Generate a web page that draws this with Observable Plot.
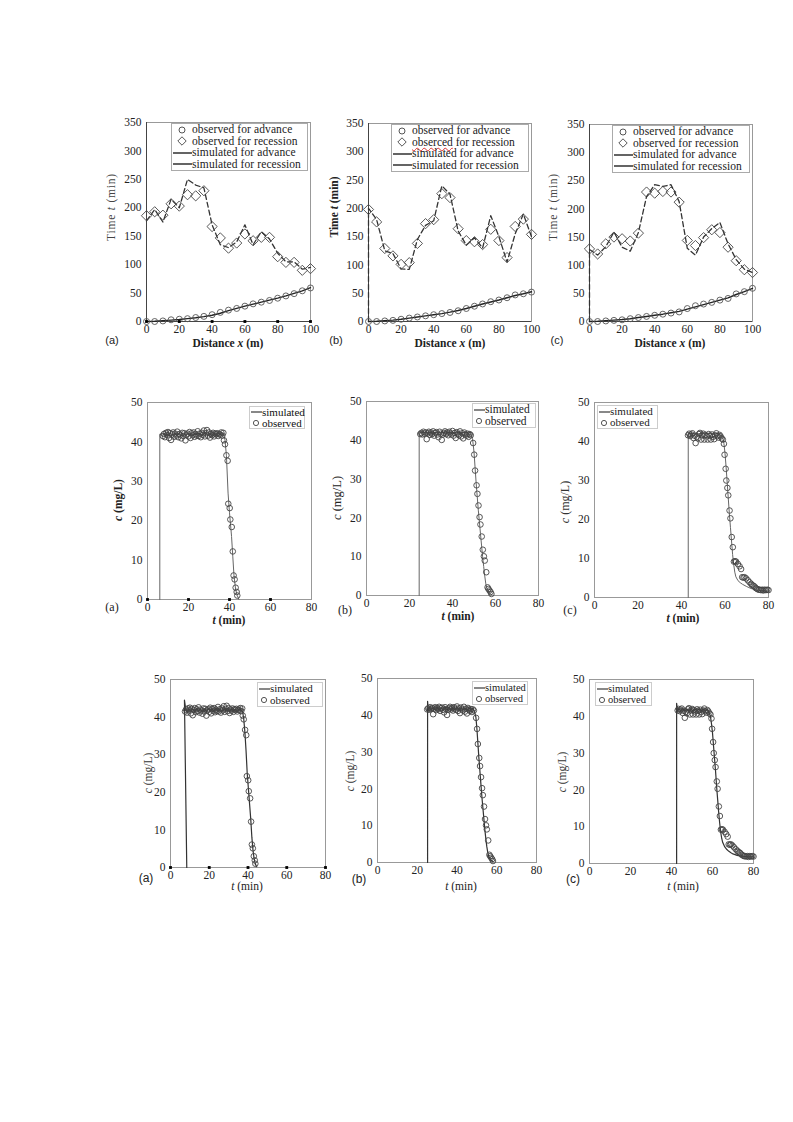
<!DOCTYPE html>
<html><head><meta charset="utf-8">
<script src="https://cdn.jsdelivr.net/npm/d3@7"></script>
<script src="https://cdn.jsdelivr.net/npm/@observablehq/plot@0.6"></script>
<style>
body{margin:0;background:#fff;}
#page{position:relative;width:793px;height:1122px;background:#fff;overflow:hidden;font-family:"Liberation Serif",serif;color:#222;}
.lbl{position:absolute;white-space:nowrap;transform:translate(-50%,-50%);}
.ylbl{position:absolute;white-space:nowrap;transform:translate(-50%,-50%) rotate(-90deg);}
.legend{position:absolute;background:#fff;border:1px solid #aaa;font-family:"Liberation Serif",serif;color:#222;box-sizing:border-box;}
.legend .row{display:flex;align-items:center;white-space:nowrap;}
.legend svg{flex:none;}
</style></head><body><div id="page"></div><script>
// ---------- Row 1: advance / recession (time vs distance) ----------
const distance = [0,5,10,15,20,25,30,35,40,45,50,55,60,65,70,75,80,85,90,95,100];
const advObsA = [0,0,1,3,4,5,7,9,12,16,20,23,27,31,34,37,41,45,49,54,59];
const advSimA = [0,0.5,1.5,2.5,3.5,5,6.5,8.5,11,14.5,19,23,27,30.5,34,37.5,41,45,49.5,54,59.5];
const recObsA = [186,193,187,207,203,223,221,230,167,147,129,138,154,142,148,148,114,104,104,90,93];
const recSimA = [177,197,175,215,200,250,240,235,170,135,130,140,170,135,158,145,120,105,105,92,95];

const advObsB = [0,0,1,2,4,6,8,10,12,14,16,19,23,27,31,35,38,42,47,49,52];
const advSimB = [0,0.5,1.5,2.5,4,6,8,10,12,14,16.5,19.5,23,27,31,34.5,38,42,46,49,52.5];
const recObsB = [198,176,129,116,101,104,138,173,180,226,219,164,143,141,136,163,143,113,168,181,154];
const recSimBx = [0,0,5,10,15,20,25,30,35,40,45,50,55,60,65,70,75,80,85,90,95,100];
const recSimBy = [0,200,180,125,120,93,92,145,170,178,240,225,160,135,148,130,187,150,105,155,190,150];

const advObsC = [0,0,1,2,3,5,7,9,11,13,15,17,23,28,31,34,38,41,49,53,59];
const advSimC = [0,0.5,1.5,2.5,3.5,5,7,9,11,13,15.5,18,22,26,30,34,38,42,48,53,59];
const recObsC = [129,120,138,150,147,143,157,230,228,231,230,212,144,135,149,163,158,132,108,92,87];
const recSimCx = [0,0,5,10,15,20,25,30,35,40,45,50,55,60,65,70,75,80,85,90,95,100];
const recSimCy = [0,128,118,133,159,132,125,158,222,243,240,243,213,130,118,150,165,176,138,110,93,87];

const distTicks = [0,20,40,60,80,100];
const timeTicks = [0,50,100,150,200,250,300,350];
const axisDotsRow1 = [0,20,40,60,80,100];

// ---------- Rows 2 & 3: concentration vs time ----------
const tObsA = [7.5,8,8.5,9,9.5,10,10.5,11,11.5,12,12.5,13,13.5,14,14.5,15,15.5,16,16.5,17,17.5,18,18.5,19,19.5,20,20.5,21,21.5,22,22.5,23,23.5,24,24.5,25,25.5,26,26.5,27,27.5,28,28.5,29,29.5,30,30.5,31,31.5,32,32.5,33,33.5,34,34.5,35,35.5,36,36.5,37,
  37.3,37.8,38.5,39.1,39.4,40.1,40.4,41.1,41.6,42,42.5,43,43.5,43.8];
const cObsA = [41.5,42.0,41.2,42.3,41.8,42.5,41.0,42.2,40.5,41.9,42.4,41.3,42.1,41.6,42.6,41.2,42.0,41.7,40.9,42.3,
  41.5,42.2,40.4,41.8,42.1,41.4,42.5,41.0,42.2,41.7,42.4,41.3,42.0,41.6,42.7,41.5,42.1,41.2,42.3,41.8,
  42.9,41.4,42.2,43.0,41.6,42.4,41.1,42.0,41.7,42.3,41.4,42.1,41.9,42.2,41.5,42.0,41.8,42.4,41.6,42.3,
  40.4,39.4,36.6,35.2,24.3,23.2,20.3,18.4,12.2,6.1,5.1,3.0,1.9,1.0];

const tObsB = [25,25.5,26,26.5,27,27.5,28,28.5,29,29.5,30,30.5,31,31.5,32,32.5,33,33.5,34,34.5,35,35.5,36,36.5,37,37.5,38,38.5,39,39.5,40,40.5,41,41.5,42,42.5,43,43.5,44,44.5,45,45.5,46,46.5,47,47.5,48,48.5,
  49.6,50.1,50.5,51.2,51.6,52.1,52.6,53,53.6,54.1,54.6,55,55.7,56.3,56.7,57.2,57.7,58.1];
const cObsB = [41.6,41.9,41.5,42.2,41.7,42.0,40.3,41.8,42.2,41.4,42.0,41.6,42.3,41.2,41.9,42.1,41.5,40.8,42.2,41.7,
  40.1,41.5,41.9,42.3,41.6,42.0,41.3,42.2,41.8,41.5,42.4,41.2,41.9,40.6,42.1,41.6,41.3,42.3,41.0,41.8,
  40.5,42.0,41.5,41.2,41.7,40.9,41.6,41.3,
  39.3,36.3,32.2,28.4,26.2,23.2,20.2,18.3,15.2,11.8,10.1,9.0,6.0,2.1,1.7,1.3,0.9,0.4];

const tObsC = [43,43.5,44,44.5,45,45.5,46,46.5,47,47.5,48,48.5,49,49.5,50,50.5,51,51.5,52,52.5,53,53.5,54,54.5,55,55.5,56,56.5,57,57.5,58,58.5,
  59,59.5,59.8,60.3,60.6,61.1,61.5,62.1,62.5,63.1,63.6,64.1,64.6,65.1,65.9,66.7,67.4,67.9,68.5,69,69.7,70.5,71.3,72,72.5,73.1,73.6,74.2,74.8,75.4,75.9,76.5,77.1,77.6,78.2,78.8,79.4,80];
const cObsC = [41.6,42.0,41.4,41.8,42.1,40.9,41.5,39.6,41.2,40.8,41.9,42.2,40.5,41.6,42.0,40.5,41.7,41.3,40.5,41.9,
  41.5,40.5,41.8,41.2,40.6,41.6,42.1,41.4,41.0,41.7,41.3,40.8,
  40.5,39.4,36.6,33.0,30.0,28.1,26.2,22.3,20.3,15.5,12.9,9.2,9.3,9.2,8.6,8.0,7.3,5.2,5.1,5.2,4.9,4.4,3.9,3.5,3.2,3.0,2.8,2.4,2.2,2.0,2.0,1.9,2.0,1.8,2.0,1.9,2.0,1.9];

// simulated, row 2
const tSim2A = [6,6,37,37.8,38.5,39.3,40,41,41.6,42.2,43,43.8,44.6];
const cSim2A = [0,42,42,40.5,36.5,27,22,16,11,6,2.5,1,0];
const tSim2B = [24.5,24.5,48.5,49.3,50,50.5,51,51.5,52,52.5,53,53.5,54,54.5,55,55.5,56,57,58];
const cSim2B = [0,42,42,40.5,37,33,29,25.5,22,19,16,13,10,7.5,5,3,1.8,0.7,0.3];
const tSim2C = [43.1,43.1,58,59,59.5,60,60.5,61,61.5,62,62.5,63,63.5,64,64.5,65,66,67,68,70,72,74,76,78,80];
const cSim2C = [0,42,42,41,39.5,37,33.5,29.5,25.5,21.5,18,14.5,11,8.5,6.5,5.3,4.3,3.8,3.4,2.8,2.3,2.0,1.8,1.7,1.6];

// simulated, row 3
const tSim3A = [8.4,7.2,7.9,8.6,9.5,10.5,11.5,12.5,13.5,14.5,15.5,16.5,17.5,18.5,19.5,20.5,21.5,22.5,23.5,24.5,25.5,26.5,27.5,28.5,29.5,30.5,31.5,32.5,33.5,34.5,35.5,36.5,37.2,37.8,38.4,39,39.6,40.2,40.8,41.4,42,42.6,43.2,43.8,44.5];
const cSim3A = [0,44.5,42,41.3,42.3,41.5,42.2,41.4,42.3,41.6,42.1,41.4,42.2,41.5,42.3,41.6,42.2,41.5,42.3,41.6,42.1,41.5,42.2,41.6,42.3,41.5,42.2,41.6,42.1,41.5,42.2,41.8,41.5,39.5,36,31,25,21,17,13,8,4.5,2.2,0.9,0.2];
const tSim3B = [25.2,25.2,25.6,26.2,27,28,29,30,31,32,33,34,35,36,37,38,39,40,41,42,43,44,45,46,47,48,48.8,49.5,50,50.5,51,51.5,52,52.5,53,53.5,54,54.5,55,55.5,56,57,58];
const cSim3B = [0,43.8,41.3,42.1,41.4,42.1,41.5,42.2,41.4,42.0,41.5,42.2,41.4,42.1,41.5,42.0,41.4,42.2,41.5,42.1,41.4,42.0,41.5,42.1,41.4,41.9,41,39.5,36.5,32.5,28.5,25,21.5,18,15,12,9,6.5,4.3,2.7,1.6,0.7,0.3];
const tSim3C = [42.5,42.5,43,43.6,44.5,45.5,46.5,47.5,48.5,49.5,50.5,51.5,52.5,53.5,54.5,55.5,56.5,57.5,58.3,59,59.5,60,60.5,61,61.5,62,62.5,63,63.5,64,64.5,65,66,67,68,69,70,72,74,76,78,80];
const cSim3C = [0,43.5,41.4,42.0,41.5,42.1,41.4,42.0,41.5,42.1,41.4,42.0,41.5,42.1,41.4,42.0,41.5,41.9,41,40,38,35.5,32,28.5,25,21,17.5,14,11,8.5,6.8,5.7,4.5,3.8,3.3,2.9,2.6,2.2,2.0,1.9,1.8,1.8];

const concTicks = [0,10,20,30,40,50];
const minTicks = [0,20,40,60,80];
const axisDotsRow2 = [0,20,40,60];
const axisDotsRow3 = [0,20,40,60,80];

// ---------- helpers ----------
const page = document.getElementById("page");
const zip = (xs, ys) => xs.map((x, i) => ({x, y: ys[i]}));

function panel({box, xDomain, yDomain, xTicks, yTicks, marks, fontSize, axisDark}) {
  const mL = 40, mR = 8, mT = 8, mB = 24;
  const w = box[2] - box[0], h = box[3] - box[1];
  const extra = axisDark ? [Plot.ruleX([xDomain[0]], {stroke: "#444"}), Plot.ruleY([yDomain[0]], {stroke: "#444"})] : [];
  const svg = Plot.plot({
    width: w + mL + mR, height: h + mT + mB,
    marginLeft: mL, marginRight: mR, marginTop: mT, marginBottom: mB,
    style: {fontFamily: "'Liberation Serif', serif", fontSize: fontSize + "px", color: "#222", background: "transparent", overflow: "visible"},
    x: {domain: xDomain, ticks: xTicks, tickSize: 0, tickPadding: 3, label: null},
    y: {domain: yDomain, ticks: yTicks, tickSize: 0, tickPadding: 5, label: null},
    marks: [Plot.frame({stroke: "#999"}), ...extra, ...marks]
  });
  svg.style.position = "absolute";
  svg.style.left = (box[0] - mL) + "px";
  svg.style.top = (box[1] - mT) + "px";
  page.appendChild(svg);
}

function text(html, x, y, css = "") {
  const d = document.createElement("div");
  d.className = "lbl"; d.innerHTML = html;
  d.style.cssText += `left:${x}px;top:${y}px;${css}`;
  page.appendChild(d);
}
function ytext(html, x, y, css = "") {
  const d = document.createElement("div");
  d.className = "ylbl"; d.innerHTML = html;
  d.style.cssText += `left:${x}px;top:${y}px;${css}`;
  page.appendChild(d);
}
const symCircle = (w, r) => `<svg width="${w}" height="10"><circle cx="${w/2}" cy="5" r="${r}" fill="none" stroke="#555"/></svg>`;
const symDiamond = w => `<svg width="${w}" height="10"><polygon points="${w/2},0.8 ${w/2+4.2},5 ${w/2},9.2 ${w/2-4.2},5" fill="none" stroke="#555"/></svg>`;
const symLine = (w, c) => `<svg width="${w}" height="10"><line x1="1" x2="${w}" y1="5" y2="5" stroke="${c}" stroke-width="1.4"/></svg>`;

function legend(rows, left, top, width, height, fontSize, css = "") {
  const d = document.createElement("div");
  d.className = "legend";
  d.style.cssText += `left:${left}px;top:${top}px;width:${width}px;height:${height}px;font-size:${fontSize}px;${css}`;
  const rh = (height - 2) / rows.length;
  d.innerHTML = rows.map(([s, t]) => `<div class="row" style="height:${rh}px;line-height:${rh}px">${s}<span>${t}</span></div>`).join("");
  page.appendChild(d);
}

// ---------- Row 1 panels ----------
function row1(box, adv, advSim, rec, recSimX, recSimY, dots) {
  const marks = [
    Plot.line(zip(recSimX, recSimY), {x: "x", y: "y", stroke: "#333", strokeWidth: 1.3, strokeDasharray: "5,3"}),
    Plot.line(zip(distance, advSim), {x: "x", y: "y", stroke: "#222", strokeWidth: 1.4}),
    Plot.dot(zip(distance, rec), {x: "x", y: "y", symbol: "diamond2", r: 4.6, stroke: "#444", fill: "none", strokeWidth: 0.9}),
    Plot.dot(zip(distance, adv), {x: "x", y: "y", symbol: "circle", r: 3, stroke: "#555", fill: "none", strokeWidth: 0.9})
  ];
  if (dots) marks.push(Plot.dot(dots, {x: d => d, y: () => 0, symbol: "square", r: 1.6, fill: "#000"}));
  panel({box, xDomain: [0, 100], yDomain: [0, 350], xTicks: distTicks, yTicks: timeTicks, marks, fontSize: 11.5, axisDark: true});
}
row1([146, 122, 310, 321], advObsA, advSimA, recObsA, distance, recSimA, axisDotsRow1);
row1([368, 123, 531, 321], advObsB, advSimB, recObsB, recSimBx, recSimBy, null);
row1([589, 124, 752, 321], advObsC, advSimC, recObsC, recSimCx, recSimCy, null);

const leg1 = (obsRec) => [
  [symCircle(20, 3), "observed for advance"],
  [symDiamond(20), obsRec],
  [symLine(20, "#222"), "simulated for advance"],
  [symLine(20, "#222"), "simulated for recession"]
];
legend(leg1("observed for recession"), 171, 123, 137, 48, 11.5, "letter-spacing:0.1px;");
legend(leg1('<span style="text-decoration:underline wavy #d33;text-decoration-thickness:1px">obserced</span> for recession'), 391, 124, 138, 48, 11.5);
legend(leg1("observed for recession"), 612, 125, 138, 48, 11.5, "letter-spacing:0.1px;");

ytext("Time <i>t</i> (min)", 111, 207, "font-size:11.5px;color:#444;letter-spacing:0.8px;");
ytext("<b>Time <i>t</i> (min)</b>", 334, 207, "font-size:11.5px;");
ytext("Time <i>t</i> (min)", 553, 207, "font-size:11.5px;color:#444;letter-spacing:0.8px;");
for (const [cx, lx, l] of [[228, 112, "(a)"], [450, 336, "(b)"], [670, 557, "(c)"]]) {
  text("<b>Distance <i>x</i> (m)</b>", cx, 343, "font-size:11.5px;");
  text(l, lx, 340, "font-family:'Liberation Sans',Arial,sans-serif;font-size:11px;");
}

// ---------- Rows 2 & 3 ----------
function concPanel(box, tObs, cObs, tSim, cSim, dots, simColor, simWidth) {
  const marks = [
    Plot.line(zip(tSim, cSim), {x: "x", y: "y", stroke: simColor, strokeWidth: simWidth}),
    Plot.dot(zip(tObs, cObs), {x: "x", y: "y", symbol: "circle", r: 2.8, stroke: "#444", fill: "none", strokeWidth: 0.9})
  ];
  if (dots) marks.push(Plot.dot(dots, {x: d => d, y: () => 0, symbol: "square", r: 1.6, fill: "#000"}));
  panel({box, xDomain: [0, 80], yDomain: [0, 50], xTicks: minTicks, yTicks: concTicks, marks, fontSize: 11.5, axisDark: false});
}
concPanel([147, 402, 311, 599], tObsA, cObsA, tSim2A, cSim2A, axisDotsRow2, "#666", 1);
concPanel([366, 401, 538, 595], tObsB, cObsB, tSim2B, cSim2B, null, "#666", 1);
concPanel([594, 402, 768, 597], tObsC, cObsC, tSim2C, cSim2C, null, "#666", 1);
concPanel([170, 679, 325, 867], tObsA, cObsA, tSim3A, cSim3A, axisDotsRow3, "#333", 1.2);
concPanel([377, 678, 536, 862], tObsB, cObsB, tSim3B, cSim3B, null, "#333", 1.2);
concPanel([589, 679, 753, 863], tObsC, cObsC, tSim3C, cSim3C, null, "#333", 1.2);

const leg2 = [[symLine(12, "#555"), "simulated"], [symCircle(12, 2.6), "observed"]];
legend(leg2, 249, 406, 56, 23, 11, "color:#111;border-color:#ccc;");
legend(leg2, 472, 403, 64, 25, 11.5, "border-color:#ccc;");
legend(leg2, 597, 405, 61, 24, 11, "border-color:#ccc;");
legend(leg2, 257, 682, 66, 25, 11, "border-color:#ccc;");
legend(leg2, 472, 681, 56, 24, 10.5, "border-color:#ccc;");
legend(leg2, 595, 682, 57, 24, 10.5, "border-color:#ccc;");

// row 2 labels
ytext("<b><i>c</i> (mg/L)</b>", 118, 500, "font-size:11.5px;");
ytext("<i>c</i> (mg/L)", 337, 498, "font-size:12.5px;");
ytext("<i>c</i> (mg/L)", 565, 502, "font-size:12px;color:#333;");
text("<b><i>t</i> (min)</b>", 229, 620, "font-size:11.5px;");
text("<b><i>t</i> (min)</b>", 458, 616, "font-size:11.5px;");
text("<b><i>t</i> (min)</b>", 683, 618, "font-size:11.5px;");
text("(a)", 112, 607, "font-size:12px;");
text("(b)", 345, 610, "font-size:12px;");
text("(c)", 570, 610, "font-size:12px;");

// row 3 labels
ytext("<i>c</i> (mg/L)", 148, 773, "font-size:11.5px;color:#333;");
ytext("<i>c</i> (mg/L)", 350, 771, "font-size:11.5px;color:#333;");
ytext("<i>c</i> (mg/L)", 562, 772, "font-size:11.5px;color:#333;");
text("<i>t</i> (min)", 247, 886, "font-size:11.5px;");
text("<i>t</i> (min)", 461, 886, "font-size:11.5px;");
text("<i>t</i> (min)", 683, 886, "font-size:11.5px;");
text("(a)", 146, 878, "font-family:'Liberation Sans',Arial,sans-serif;font-size:12px;");
text("(b)", 359, 879, "font-family:'Liberation Sans',Arial,sans-serif;font-size:12px;");
text("(c)", 573, 879, "font-family:'Liberation Sans',Arial,sans-serif;font-size:12px;");
</script></body></html>
